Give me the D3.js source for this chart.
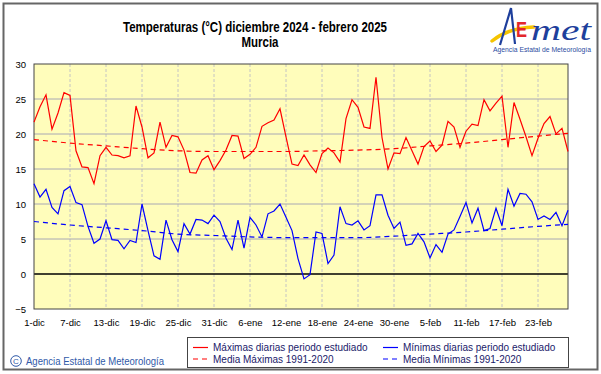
<!DOCTYPE html>
<html>
<head>
<meta charset="utf-8">
<script src="https://cdn.jsdelivr.net/npm/d3@7"></script>
<style>
  body { margin: 0; background: #fff; }
  svg { display: block; font-family: "Liberation Sans", Arial, sans-serif; }
</style>
</head>
<body>
<svg id="chart" width="601" height="374"></svg>
<script>
// daily values, 1 Dec 2024 .. 28 Feb 2025
const tmax = [
  21.7, 23.9, 25.6, 20.7, 23.0, 25.9, 25.5, 17.6, 15.3, 15.2,
  12.9, 16.9, 18.1, 17.0, 16.9, 16.6, 16.9, 24.0, 21.0, 16.6,
  17.3, 21.7, 18.1, 19.8, 19.6, 17.7, 14.5, 14.4, 16.3, 16.9,
  14.9, 16.2, 17.7, 19.8, 19.7, 16.5, 17.1, 18.1, 21.1, 21.6,
  22.0, 23.6, 19.6, 15.7, 15.5, 17.0, 15.6, 14.5, 17.2, 18.0,
  17.3, 16.0, 22.2, 24.9, 23.8, 21.0, 20.8, 28.1, 19.5, 15.0,
  17.3, 17.2, 19.5, 17.6, 15.7, 18.2, 19.0, 17.5, 18.4, 21.8,
  21.0, 18.1, 20.4, 21.4, 21.2, 24.9, 23.3, 24.4, 25.4, 18.1,
  24.5, 22.1, 19.6, 16.9, 19.4, 21.5, 22.5, 20.0, 20.8, 17.5
];
const tmin = [
  12.9, 11.0, 12.1, 9.5, 8.6, 11.9, 12.5, 10.2, 9.9, 6.8,
  4.4, 5.0, 7.6, 4.9, 4.8, 3.6, 4.8, 4.5, 10.0, 6.2,
  2.6, 2.1, 7.7, 4.9, 3.2, 7.2, 5.7, 7.8, 7.7, 7.2,
  8.4, 7.5, 5.1, 3.5, 7.7, 3.7, 8.1, 7.0, 5.3, 8.6,
  9.0, 10.0, 8.1, 6.2, 2.2, -0.7, -0.1, 6.0, 5.8, 1.5,
  2.7, 9.6, 7.2, 7.0, 7.6, 6.3, 6.9, 11.3, 11.3, 8.4,
  6.5, 7.4, 4.1, 4.3, 5.8, 4.6, 2.3, 4.2, 3.1, 5.7,
  6.3, 8.2, 10.2, 7.3, 9.4, 6.2, 6.5, 9.4, 6.9, 12.1,
  9.7, 11.5, 11.4, 10.3, 7.8, 8.3, 7.8, 8.8, 6.9, 9.1
];
// 1991-2020 normals, read at these day indexes
const normDay = [0, 6, 12, 18, 24, 30, 36, 42, 48, 54, 60, 66, 72, 78, 84, 89];
const normMax = [19.2, 18.7, 18.3, 17.9, 17.6, 17.5, 17.5, 17.5, 17.6, 17.7, 17.9, 18.3, 18.7, 19.2, 19.7, 20.1];
const normMin = [7.5, 7.0, 6.6, 6.2, 5.7, 5.5, 5.3, 5.2, 5.2, 5.2, 5.4, 5.7, 6.0, 6.4, 6.8, 7.1];

const tickLabels = ["1-dic", "7-dic", "13-dic", "19-dic", "25-dic", "31-dic", "6-ene", "12-ene",
  "18-ene", "24-ene", "30-ene", "5-feb", "11-feb", "17-feb", "23-feb"];
const yTicks = [30, 25, 20, 15, 10, 5, 0, -5];

const legendItems = [
  { text: "Máximas diarias periodo estudiado", color: "#ff0000", dash: null, col: 0, row: 0 },
  { text: "Mínimas diarias periodo estudiado", color: "#0000ff", dash: null, col: 1, row: 0 },
  { text: "Media Máximas 1991-2020", color: "#ff0000", dash: "5,4", col: 0, row: 1 },
  { text: "Media Mínimas 1991-2020", color: "#0000ff", dash: "5,4", col: 1, row: 1 }
];

const days = d3.timeDay.range(new Date(2024, 11, 1), new Date(2025, 2, 1));

const svg = d3.select("#chart");

const x = d3.scaleTime().domain([days[0], days[days.length - 1]]).range([34, 568]);
const y = d3.scaleLinear().domain([-5, 30]).range([309, 64]);

// outer frame
svg.append("rect")
  .attr("x", 3.5).attr("y", 3.5).attr("width", 594).attr("height", 366)
  .attr("fill", "#fff").attr("stroke", "#666").attr("stroke-width", 2);

// titles
svg.append("text")
  .attr("x", 255).attr("y", 32).attr("text-anchor", "middle")
  .attr("font-size", 14).attr("font-weight", "bold")
  .attr("textLength", 264).attr("lengthAdjust", "spacingAndGlyphs")
  .text("Temperaturas (°C) diciembre 2024 - febrero 2025");
svg.append("text")
  .attr("x", 260).attr("y", 47).attr("text-anchor", "middle")
  .attr("font-size", 14).attr("font-weight", "bold")
  .attr("textLength", 37).attr("lengthAdjust", "spacingAndGlyphs")
  .text("Murcia");

// logo
const logo = svg.append("g");
logo.append("path")
  .attr("d", "M492,41 Q508,28 534,27")
  .attr("fill", "none").attr("stroke", "#f5c400").attr("stroke-width", 3.5)
  .attr("stroke-linecap", "round");
logo.append("path")
  .attr("d", "M500,45 L511,8 L515,44")
  .attr("fill", "none").attr("stroke", "#1e3f9c").attr("stroke-width", 2.2);
logo.append("text")
  .attr("x", 516).attr("y", 37)
  .attr("font-size", 22).attr("font-weight", "bold")
  .attr("fill", "#e3262b")
  .attr("textLength", 11).attr("lengthAdjust", "spacingAndGlyphs")
  .text("E");
logo.append("text")
  .attr("x", 531).attr("y", 40)
  .attr("font-family", "Liberation Serif").attr("font-style", "italic")
  .attr("font-size", 30).attr("fill", "#1e3f9c")
  .attr("textLength", 60).attr("lengthAdjust", "spacingAndGlyphs")
  .text("met");
logo.append("text")
  .attr("x", 493).attr("y", 52)
  .attr("font-size", 6.5).attr("fill", "#2a4aa0")
  .attr("textLength", 98).attr("lengthAdjust", "spacingAndGlyphs")
  .text("Agencia Estatal de Meteorología");

// plot background
svg.append("rect")
  .attr("x", x.range()[0]).attr("y", y.range()[1])
  .attr("width", x.range()[1] - x.range()[0]).attr("height", y.range()[0] - y.range()[1])
  .attr("fill", "#fffdbb");

const tickDays = days.filter((d, i) => i % 6 === 0);

// vertical grid
svg.append("g")
  .selectAll("line")
  .data(tickDays.slice(1))
  .enter()
  .append("line")
  .attr("x1", (d) => x(d)).attr("x2", (d) => x(d))
  .attr("y1", y.range()[1]).attr("y2", y.range()[0])
  .attr("stroke", "#c4c4c4").attr("stroke-dasharray", "3,2");

// horizontal grid
svg.append("g")
  .selectAll("line")
  .data(yTicks.filter((v) => v !== 30 && v !== -5))
  .enter()
  .append("line")
  .attr("x1", x.range()[0]).attr("x2", x.range()[1])
  .attr("y1", (d) => y(d)).attr("y2", (d) => y(d))
  .attr("stroke", (d) => (d === 0 ? "#000" : "#a8a8b4"))
  .attr("stroke-width", (d) => (d === 0 ? 1.5 : 1));

// plot border
svg.append("rect")
  .attr("x", x.range()[0]).attr("y", y.range()[1])
  .attr("width", x.range()[1] - x.range()[0]).attr("height", y.range()[0] - y.range()[1])
  .attr("fill", "none").attr("stroke", "#444");

// axes
const yAxis = svg.append("g")
  .attr("transform", "translate(" + x.range()[0] + ",0)")
  .call(d3.axisLeft(y).tickValues(yTicks).tickSize(0).tickPadding(8).tickFormat(d3.format("d")));
yAxis.select(".domain").remove();
yAxis.selectAll("text").attr("font-size", 9.5).attr("fill", "#000")
  .attr("font-family", "Liberation Sans, Arial, sans-serif");

const xAxis = svg.append("g")
  .attr("transform", "translate(0," + y.range()[0] + ")")
  .call(d3.axisBottom(x).tickValues(tickDays).tickSize(0).tickPadding(10)
    .tickFormat((d, i) => tickLabels[i]));
xAxis.select(".domain").remove();
xAxis.selectAll("text").attr("font-size", 9.5).attr("fill", "#000")
  .attr("font-family", "Liberation Sans, Arial, sans-serif");

// series
const line = d3.line()
  .x((d, i) => x(days[i]))
  .y((d) => y(d));
const normLine = d3.line()
  .x((d, i) => x(days[normDay[i]]))
  .y((d) => y(d))
  .curve(d3.curveMonotoneX);

svg.append("path").datum(normMax).attr("d", normLine)
  .attr("fill", "none").attr("stroke", "#ff0000").attr("stroke-width", 1.2).attr("stroke-dasharray", "5,4");
svg.append("path").datum(normMin).attr("d", normLine)
  .attr("fill", "none").attr("stroke", "#0000ff").attr("stroke-width", 1.2).attr("stroke-dasharray", "5,4");
svg.append("path").datum(tmax).attr("d", line)
  .attr("fill", "none").attr("stroke", "#ff0000").attr("stroke-width", 1.2);
svg.append("path").datum(tmin).attr("d", line)
  .attr("fill", "none").attr("stroke", "#0000ff").attr("stroke-width", 1.2);

// legend
const legend = svg.append("g").attr("transform", "translate(187,337)");
legend.append("rect")
  .attr("x", 0.5).attr("y", 0.5).attr("width", 381).attr("height", 30)
  .attr("fill", "#fff").attr("stroke", "#444");
const item = legend.selectAll("g.item")
  .data(legendItems)
  .enter()
  .append("g")
  .attr("class", "item")
  .attr("transform", (d) => "translate(" + (d.col === 0 ? 6 : 196) + "," + (d.row === 0 ? 10.5 : 22) + ")");
item.append("line")
  .attr("x1", 0).attr("x2", 15).attr("y1", 0).attr("y2", 0)
  .attr("stroke", (d) => d.color).attr("stroke-width", 1.2)
  .attr("stroke-dasharray", (d) => d.dash);
item.append("text")
  .attr("x", 20).attr("y", 3.5)
  .attr("font-size", 10).attr("fill", "#1a1a6a")
  .text((d) => d.text);

// copyright
const copy = svg.append("g");
copy.append("circle")
  .attr("cx", 16).attr("cy", 361).attr("r", 5.3)
  .attr("fill", "none").attr("stroke", "#2f59a8").attr("stroke-width", 1);
copy.append("text")
  .attr("x", 16).attr("y", 364.2).attr("text-anchor", "middle")
  .attr("font-size", 8).attr("fill", "#2f59a8").text("C");
copy.append("text")
  .attr("x", 26).attr("y", 365)
  .attr("font-size", 10.5).attr("fill", "#2f59a8")
  .attr("textLength", 138).attr("lengthAdjust", "spacingAndGlyphs")
  .text("Agencia Estatal de Meteorología");
</script>
</body>
</html>
